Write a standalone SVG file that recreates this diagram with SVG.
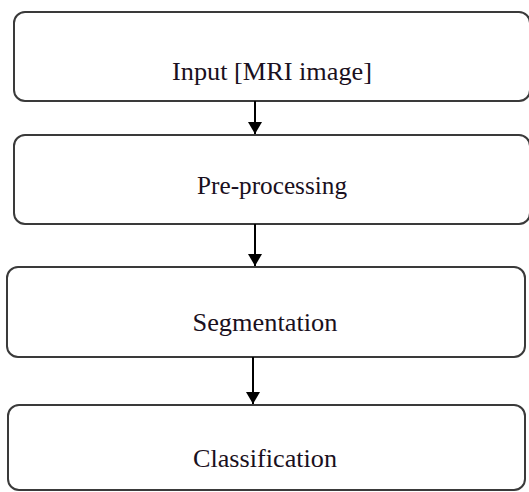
<svg xmlns="http://www.w3.org/2000/svg" width="529" height="492" viewBox="0 0 529 492">
<style>
.box{fill:#ffffff;stroke:#3a3a3a;stroke-width:2}
.lbl{font-family:"Liberation Serif","Times New Roman",serif;font-size:26px;fill:#1a1020;text-anchor:middle}
.conn{stroke:#000;stroke-width:2;fill:none}
</style>
<defs>
<marker id="arr" viewBox="0 0 12 16" refX="12" refY="8" markerWidth="12" markerHeight="16" markerUnits="userSpaceOnUse" orient="auto">
<path d="M0,1 L12,8 L0,15 Z" fill="#000"/>
</marker>
</defs>
<rect width="529" height="492" fill="#fff"/>
<g id="input">
<rect class="box" x="14" y="12" width="516" height="89" rx="11"/>
<text class="lbl" x="272" y="80" textLength="200" lengthAdjust="spacingAndGlyphs">Input [MRI image]</text>
</g>
<g id="preprocessing">
<rect class="box" x="14" y="135" width="516" height="89" rx="11"/>
<text class="lbl" x="272" y="194" textLength="150" lengthAdjust="spacingAndGlyphs">Pre-processing</text>
</g>
<g id="segmentation">
<rect class="box" x="7" y="267" width="518" height="90" rx="11"/>
<text class="lbl" x="265" y="331" textLength="145" lengthAdjust="spacingAndGlyphs">Segmentation</text>
</g>
<g id="classification">
<rect class="box" x="8" y="405" width="517" height="85" rx="11"/>
<text class="lbl" x="265" y="467" textLength="144" lengthAdjust="spacingAndGlyphs">Classification</text>
</g>
<g id="connectors">
<line class="conn" x1="255" y1="101" x2="255" y2="134" marker-end="url(#arr)"/>
<line class="conn" x1="255" y1="224" x2="255" y2="266" marker-end="url(#arr)"/>
<line class="conn" x1="253" y1="357" x2="253" y2="404" marker-end="url(#arr)"/>
</g>
</svg>
